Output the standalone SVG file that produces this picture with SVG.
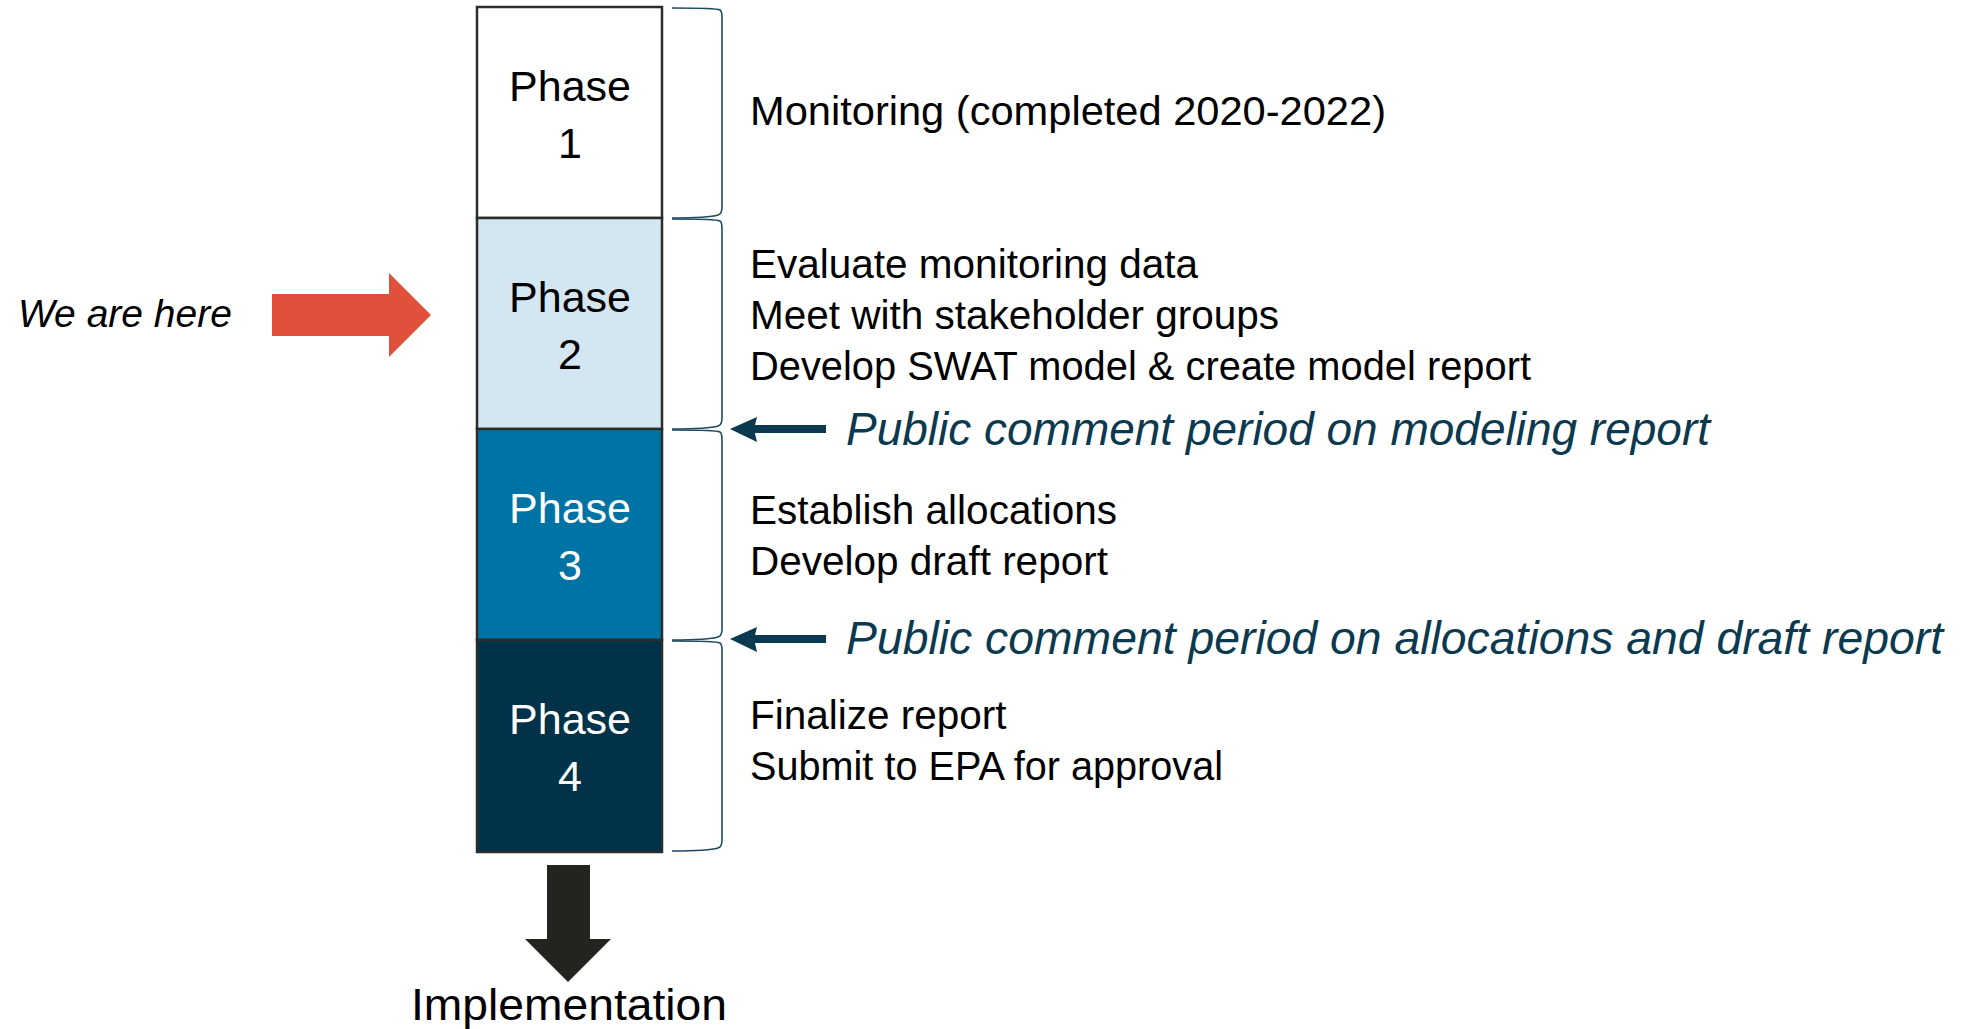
<svg xmlns="http://www.w3.org/2000/svg" width="1977" height="1029" viewBox="0 0 1977 1029">
  <style>
    .box { stroke: #2a2d29; stroke-width: 2.5; }
    .ph { font-family: "Liberation Sans", Arial, sans-serif; font-size: 43px; text-anchor: middle; }
    .txt { font-family: "Liberation Sans", Arial, sans-serif; font-size: 40.5px; fill: #000; }
    .pub { font-family: "Liberation Sans", Arial, sans-serif; font-size: 46px; font-style: italic; fill: #0b3a50; }
    .brace { fill: none; stroke: #1e4a5f; stroke-width: 1.6; }
    .darr { fill: #0b3a50; }
  </style>
  <rect width="1977" height="1029" fill="#fff"/>

  <g id="phase1">
    <rect class="box" x="477" y="7" width="185" height="211" fill="#ffffff"/>
    <text class="ph" x="570" y="101" fill="#000">Phase</text>
    <text class="ph" x="570" y="158" fill="#000">1</text>
  </g>
  <g id="phase2">
    <rect class="box" x="477" y="218" width="185" height="211" fill="#d4e6f1"/>
    <text class="ph" x="570" y="312" fill="#000">Phase</text>
    <text class="ph" x="570" y="369" fill="#000">2</text>
  </g>
  <g id="phase3">
    <rect class="box" x="477" y="429" width="185" height="211" fill="#0073a5"/>
    <text class="ph" x="570" y="523" fill="#fff">Phase</text>
    <text class="ph" x="570" y="580" fill="#fff">3</text>
  </g>
  <g id="phase4">
    <rect class="box" x="477" y="640" width="185" height="212" fill="#003249"/>
    <text class="ph" x="570" y="734" fill="#fff">Phase</text>
    <text class="ph" x="570" y="791" fill="#fff">4</text>
  </g>

  <g id="desc1">
    <text class="txt" x="750" y="125" textLength="636" lengthAdjust="spacingAndGlyphs">Monitoring (completed 2020-2022)</text>
  </g>
  <g id="desc2">
    <text class="txt" x="750" y="278">Evaluate monitoring data</text>
    <text class="txt" x="750" y="329">Meet with stakeholder groups</text>
    <text class="txt" x="750" y="380" textLength="781" lengthAdjust="spacingAndGlyphs">Develop SWAT model &amp; create model report</text>
  </g>
  <g id="desc3">
    <text class="txt" x="750" y="524">Establish allocations</text>
    <text class="txt" x="750" y="575">Develop draft report</text>
  </g>
  <g id="desc4">
    <text class="txt" x="750" y="729">Finalize report</text>
    <text class="txt" x="750" y="780" textLength="473" lengthAdjust="spacingAndGlyphs">Submit to EPA for approval</text>
  </g>
  <g id="comment1">
    <text class="pub" x="846" y="445" textLength="864" lengthAdjust="spacingAndGlyphs">Public comment period on modeling report</text>
  </g>
  <g id="comment2">
    <text class="pub" x="846" y="654" textLength="1097" lengthAdjust="spacingAndGlyphs">Public comment period on allocations and draft report</text>
  </g>
  <g id="here">
    <text x="18" y="327" font-family="Liberation Sans, Arial, sans-serif" font-size="39" font-style="italic" fill="#000">We are here</text>
  </g>
  <g id="implementation">
    <text x="411" y="1020" font-family="Liberation Sans, Arial, sans-serif" font-size="44" fill="#000" textLength="316" lengthAdjust="spacingAndGlyphs">Implementation</text>
  </g>

  <g id="connectors">
    <path class="brace" d="M672,8 C700,8 716,8 720,10 Q722,11 722,18 L722,207 Q722,214 718,215 C712,217 700,218 672,218"/>
    <path class="brace" d="M672,219 C700,219 716,219 720,221 Q722,222 722,229 L722,418 Q722,425 718,426 C712,428 700,429 672,429"/>
    <path class="brace" d="M672,430 C700,430 716,430 720,432 Q722,433 722,440 L722,629 Q722,636 718,637 C712,639 700,640 672,640"/>
    <path class="brace" d="M672,641 C700,641 716,641 720,643 Q722,644 722,651 L722,840 Q722,847 718,848 C712,850 700,851 672,851"/>
    <polygon fill="#e0503a" points="272,294 389,294 389,273 431,315 389,357 389,336 272,336"/>
    <polygon fill="#22251f" points="547,865 590,865 590,939 611,939 568,982 525,939 547,939"/>
    <g class="darr">
      <rect x="752" y="425" width="74" height="8"/>
      <polygon points="730,429 757,417 754,429 757,442"/>
      <rect x="752" y="635" width="74" height="8"/>
      <polygon points="730,639 757,627 754,639 757,652"/>
    </g>
  </g>
</svg>
